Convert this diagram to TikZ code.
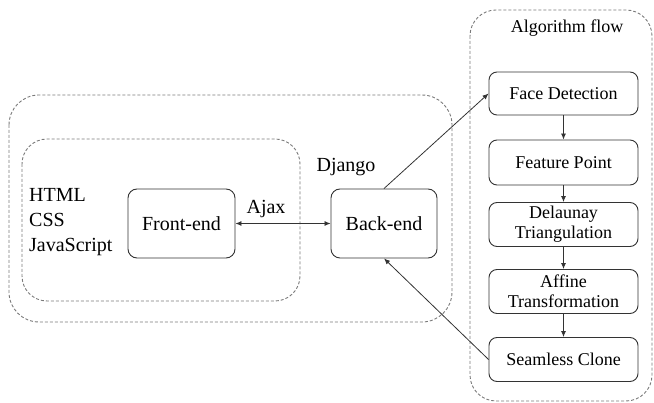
\documentclass[tikz,border=0pt]{standalone}
\usepackage{fontspec}
\setmainfont{LiberationSerif}[Extension=.ttf, UprightFont=*-Regular, BoldFont=*-Bold, ItalicFont=*-Italic, BoldItalicFont=*-BoldItalic]
\usetikzlibrary{arrows.meta}
\definecolor{boxline}{HTML}{333333}
\definecolor{dashline}{HTML}{7A7A7A}
\tikzset{
  block/.style={draw=boxline, line width=0.9pt, rounded corners=9pt, inner sep=0pt,
                align=center, font=\fontsize{20}{24}\selectfont},
  flowbox/.style={draw=boxline, line width=0.9pt, rounded corners=8pt, inner sep=0pt,
                  align=center, minimum width=149pt, minimum height=44pt,
                  font=\fontsize{18}{20}\selectfont},
  frame/.style={draw=dashline, line width=0.9pt, dash pattern=on 3pt off 2pt},
  arr/.style={draw=boxline, line width=0.8pt, -{Latex[length=6pt,width=5pt]}},
  biarr/.style={draw=boxline, line width=0.8pt, {Latex[length=6pt,width=5pt]}-{Latex[length=6pt,width=5pt]}},
  lbl/.style={inner sep=0pt, font=\fontsize{20}{24}\selectfont}
}
\begin{document}
\begin{tikzpicture}[x=1pt, y=-1pt]
  \useasboundingbox (0,0) rectangle (654,403);

  % containers
  \draw[frame, rounded corners=30pt] (9,95) rectangle (452,322);
  \draw[frame, rounded corners=25pt] (22,139) rectangle (300,301);
  \draw[frame, rounded corners=26pt] (470,10) rectangle (652,401);

  % web stack
  \node[lbl, anchor=west, align=left, font=\fontsize{20}{25}\selectfont] (stack) at (29,222)
    {HTML\\CSS\\JavaScript};
  \node[block, minimum width=107pt, minimum height=69pt] (front) at (181.5,223.5) {Front-end};
  \node[block, minimum width=106pt, minimum height=69pt] (back) at (384,223.5) {Back-end};
  \node[lbl] (django) at (346,167) {Django};
  \node[lbl] (ajax) at (266,209) {Ajax};

  % algorithm flow
  \node[inner sep=0pt, font=\fontsize{18}{20}\selectfont] (title) at (567,28) {Algorithm flow};
  \node[flowbox, minimum height=43pt] (face) at (563.5,93.5) {Face Detection};
  \node[flowbox, minimum height=45pt] (feat) at (563.5,162.5) {Feature Point};
  \node[flowbox] (dela) at (563.5,224.5) {Delaunay\\Triangulation};
  \node[flowbox] (affi) at (563.5,291.5) {Affine\\Transformation};
  \node[flowbox] (seam) at (563.5,359.5) {Seamless Clone};

  % connectors
  \draw[biarr] (front.east) -- (back.west);
  \draw[arr] (back.north) -- (face.west);
  \draw[arr] (seam.west) -- (back.south);
  \draw[arr] (face.south) -- (feat.north);
  \draw[arr] (feat.south) -- (dela.north);
  \draw[arr] (dela.south) -- (affi.north);
  \draw[arr] (affi.south) -- (seam.north);
\end{tikzpicture}
\end{document}
